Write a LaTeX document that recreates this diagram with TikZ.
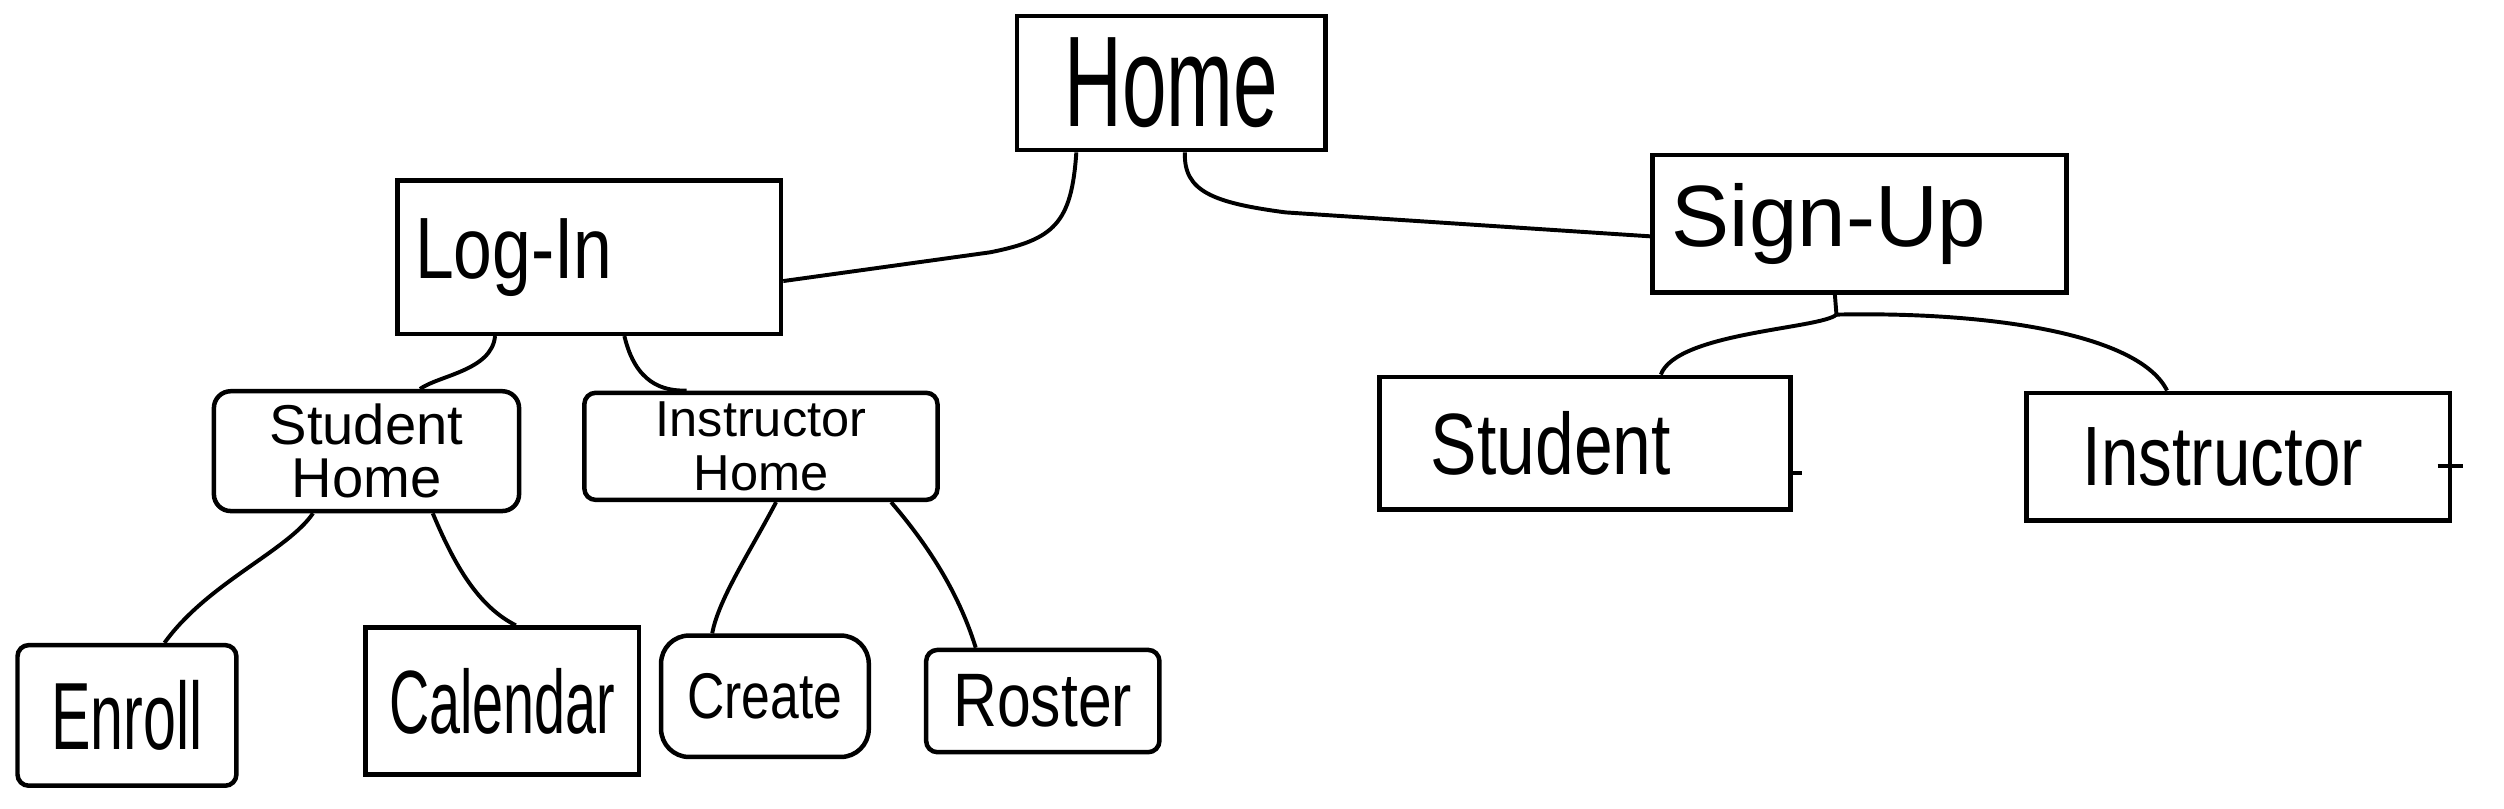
\documentclass[tikz,border=0pt]{standalone}
\usepackage{fontspec}
\setmainfont{Liberation Sans}
\newfontfamily\hand[FakeStretch=0.8]{Liberation Sans}
\newfontfamily\narrowhand[FakeStretch=0.62]{Liberation Sans}
\usetikzlibrary{positioning}

\begin{document}
\begin{tikzpicture}[
    x=0.01cm, y=-0.01cm,
    page/.style={
        draw=black, rectangle, line width=0.8pt, inner sep=0pt, align=center
    },
    link/.style={line width=0.7pt}
]
\useasboundingbox (0,0) rectangle (1568,506);

% -------------------------
% Page Nodes
% -------------------------

% 1. Home (Top Center)
\node[page, minimum width=1.93cm, minimum height=0.84cm,
    font=\narrowhand\fontsize{23}{24}\selectfont] (Home) at (733.5,52) {Home};

% 2. Log-In (Left)
\node[page, text width=2.18cm, inner xsep=0.11cm, minimum height=0.96cm, align=left,
    font=\hand\fontsize{15.5}{16}\selectfont] (LogIn) at (369,161) {Log-In};

% 3. Sign-Up (Right)
\node[page, text width=2.35cm, inner xsep=0.12cm, minimum height=0.86cm, align=left,
    font=\fontsize{15.5}{16}\selectfont] (SignUp) at (1164.5,140) {Sign-Up};

% 4. Student Home / Instructor Home
\node[page, minimum width=1.91cm, minimum height=0.75cm, rounded corners=3pt,
    font=\fontsize{10}{9.5}\selectfont] (StuHome) at (229.5,282.5) {Student\\Home};
\node[page, minimum width=2.21cm, minimum height=0.67cm, rounded corners=2pt,
    font=\fontsize{9}{9.5}\selectfont] (InsHome) at (476.5,279.5) {Instructor\\Home};

% 5. Student / Instructor (Sign-Up side)
\node[page, text width=1.93cm, inner xsep=0.32cm, minimum height=0.83cm, align=left,
    font=\hand\fontsize{15.5}{16}\selectfont] (Stu) at (992.5,277.5) {Student};
\node[page, text width=1.95cm, inner xsep=0.35cm, minimum height=0.80cm, align=left,
    font=\hand\fontsize{15}{16}\selectfont] (Ins) at (1401.5,286) {Instructor};

% 6. Leaf pages
\node[page, minimum width=1.37cm, minimum height=0.88cm, rounded corners=2pt,
    font=\narrowhand\fontsize{17}{18}\selectfont] (Enroll) at (79.5,448) {Enroll};
\node[page, minimum width=1.71cm, minimum height=0.92cm,
    font=\narrowhand\fontsize{16}{17}\selectfont] (Calendar) at (314.5,439) {Calendar};
\node[page, minimum width=1.30cm, minimum height=0.76cm, rounded corners=5pt,
    font=\hand\fontsize{11.5}{12}\selectfont] (Create) at (479,436) {Create};
\node[page, minimum width=1.46cm, minimum height=0.64cm, rounded corners=2pt,
    font=\hand\fontsize{13.5}{14}\selectfont] (Roster) at (653,439) {Roster};

% -------------------------
% Connections
% -------------------------

% Home -> Log-In / Sign-Up
\draw[link] (Home.south -| 674,0) .. controls (671,140) and (660,150) .. (620,158) -- (LogIn.east |- 0,176);
\draw[link] (Home.south -| 742,0) .. controls (741,120) and (760,127) .. (805,133) -- (SignUp.west |- 0,148);

% Sign-Up -> Student / Instructor
\coordinate (fork) at (1150,197);
\draw[link] (SignUp.south -| 1149,0) -- (fork);
\draw[link] (fork) .. controls (1140,206) and (1050,208) .. (Stu.north -| 1040,0);
\draw[link] (fork) .. controls (1250,195) and (1340,210) .. (Ins.north -| 1357,0);

% Log-In -> Student Home / Instructor Home
\draw[link] (LogIn.south -| 310,0) .. controls (308,232) and (275,235) .. (StuHome.north -| 263,0);
\draw[link] (LogIn.south -| 391,0) .. controls (398,240) and (415,245) .. (InsHome.north -| 430,0);

% Student Home -> Enroll / Calendar
\draw[link] (StuHome.south -| 196,0) .. controls (180,345) and (130,365) .. (Enroll.north -| 103,0);
\draw[link] (StuHome.south -| 271,0) .. controls (285,355) and (300,380) .. (Calendar.north -| 323,0);

% Instructor Home -> Create / Roster
\draw[link] (InsHome.south -| 486,0) .. controls (470,345) and (450,375) .. (Create.north -| 446,0);
\draw[link] (InsHome.south -| 558,0) .. controls (580,340) and (600,370) .. (Roster.north -| 611,0);

% small ticks beside Student / Instructor
\draw[link] (Stu.east |- 0,296) -- ++(6,0);
\draw[link] (Ins.east |- 0,292) ++(-9,0) -- ++(16,0);

\end{tikzpicture}
\end{document}
